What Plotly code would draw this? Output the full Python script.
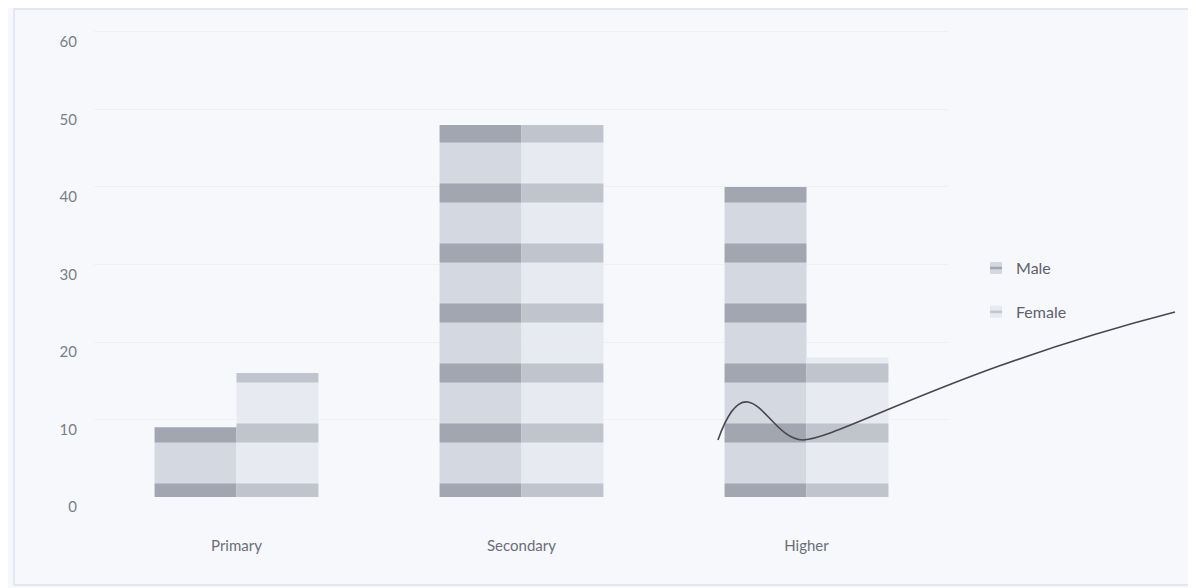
import plotly.graph_objects as go

categories = ["Primary", "Secondary", "Higher"]
male = [9, 48, 40]
female = [16, 48, 18]
y_ticks = [0, 10, 20, 30, 40, 50, 60]

# page has an 8px body margin; figure drawn inside it
OFF = 8
W, H = 1188, 580
L, R, T, B = 86, 247, 5, 91
pw, ph = W - L - R, H - T - B
Y_MAX = 62.45


def pp(sx, sy):
    """screen pixel -> paper coordinates"""
    return (sx - OFF - L) / pw, (H - B - (sy - OFF)) / ph


fig = go.Figure()
fig.add_trace(go.Bar(
    name="Male", x=categories, y=male,
    marker=dict(color="#d3d7e0", line=dict(width=0),
                pattern=dict(shape="-", size=60, solidity=0.68,
                             fgcolor="#d4d8e1", bgcolor="#a2a6b0", fgopacity=1)),
))
fig.add_trace(go.Bar(
    name="Female", x=categories, y=female,
    marker=dict(color="#e6e9f0", line=dict(width=0),
                pattern=dict(shape="-", size=60, solidity=0.68,
                             fgcolor="#e7eaf1", bgcolor="#c0c4cd", fgopacity=1)),
))

# hand-drawn scribble on the photocopy
pts = [(718, 440), (725, 420), (735, 400), (748, 402), (765, 405), (780, 440),
       (803, 440), (840, 438), (950, 370), (1175, 312)]
c = [pp(*p) for p in pts]
path = "M {:.4f},{:.4f}".format(*c[0])
for i in range(1, len(c), 3):
    path += " C {:.4f},{:.4f} {:.4f},{:.4f} {:.4f},{:.4f}".format(*c[i], *c[i + 1], *c[i + 2])
fig.add_shape(type="path", path=path, xref="paper", yref="paper",
              line=dict(color="#4a4550", width=1.6))

# faint outer border of the chart area
x0, y0 = pp(14, 585)
x1, y1 = pp(1195, 9)
fig.add_shape(type="rect", xref="paper", yref="paper", x0=x0, y0=y0, x1=x1, y1=y1,
              line=dict(color="#dde1eb", width=1.5), layer="below")

fig.update_layout(
    width=W, height=H,
    margin=dict(l=L, r=R, t=T, b=B),
    paper_bgcolor="#f6f8fc", plot_bgcolor="#f6f8fc",
    barmode="group", bargap=0.425, bargroupgap=0,
    font=dict(family="Lato, Open Sans, sans-serif", size=15, color="#6e727c"),
    showlegend=True,
    legend=dict(x=1.0316, y=0.508, xanchor="left", yanchor="top",
                bgcolor="rgba(0,0,0,0)", font=dict(size=16, color="#5e626c"),
                tracegroupgap=20, itemwidth=30),
)
fig.update_xaxes(showgrid=False, showline=False, ticks="", ticklabelstandoff=38,
                 tickfont=dict(size=15, color="#6a6e78"))
fig.update_yaxes(range=[0, Y_MAX], tickvals=y_ticks, showgrid=True, gridcolor="#eef0f4",
                 gridwidth=1, zeroline=False, showline=False, ticks="",
                 ticklabelstandoff=16, ticklabelshift=10,
                 tickfont=dict(size=15, color="#7a7e88"))
for tr in fig.data:
    tr.legendgroup = tr.name

fig.write_html("out.html")
